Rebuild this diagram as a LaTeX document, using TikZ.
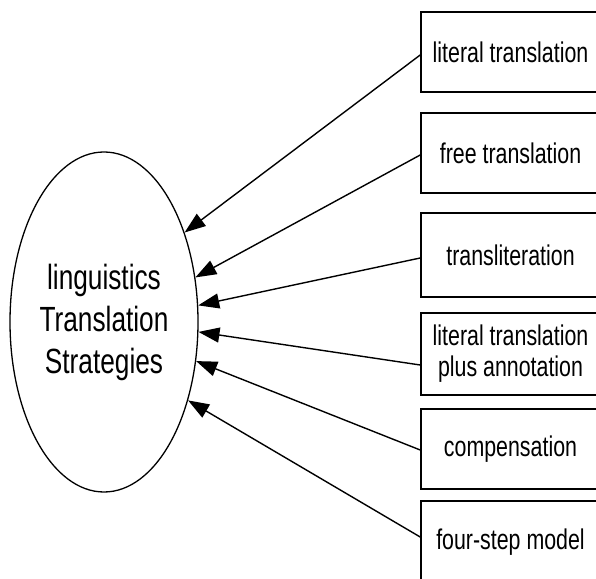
\documentclass[tikz,border=0pt]{standalone}
\usepackage{fontspec}
\setmainfont[FakeStretch=0.75]{Liberation Sans}
\usetikzlibrary{calc}
\usetikzlibrary{shapes.geometric}
\usetikzlibrary{arrows.meta}

\begin{document}
\begin{tikzpicture}[x=1pt, y=1pt]
        % Box sizes
        \pgfmathsetmacro{\boxw}{179}
        \pgfmathsetmacro{\boxh}{80}

        \tikzset{
            strategy/.style={draw, line width=1.6pt, rectangle,
            minimum width=\boxw pt, minimum height=\boxh pt, inner sep=0pt,
            align=center, font=\fontsize{28.5}{31}\selectfont},
            >={Triangle[length=21pt, width=15pt]},
        }

        \path[use as bounding box] (0, 0) rectangle (596, 578);
        \clip (0, 0) rectangle (596, 578);

        % Ellipse on the left
        \node (S) at (104, 256) [draw, ellipse, line width=1.3pt,
        minimum width=188pt, minimum height=340pt, inner sep=0pt,
        align=center, font=\fontsize{35}{42}\selectfont]
        {linguistics\\Translation\\Strategies};

        % Boxes on the right, partly cut off by the border
        \node (B1) at (510.5, 526) [strategy] {literal translation};
        \node (B2) at (510.5, 425) [strategy] {free translation};
        \node (B3) at (510.5, 323) [strategy, minimum height=84pt] {transliteration};
        \node (B4) at (510.5, 224) [strategy, minimum height=82pt] {literal translation\\plus annotation};
        \node (B5) at (510.5, 129) [strategy] {compensation};
        \node (B6) at (510.5, 36) [strategy, minimum height=82pt] {four-step model};

        \coordinate (P1) at ($(B1.west) + (0, -3)$);
        \coordinate (P2) at ($(B2.west) + (0, -2)$);
        \coordinate (P3) at ($(B3.west) + (0, -3)$);
        \coordinate (P4) at ($(B4.west) + (0, -11)$);
        \coordinate (P5) at ($(B5.west) + (0, -1)$);
        \coordinate (P6) at ($(B6.west) + (0, 5)$);

        \begin{scope}[line width=1.4pt]
            \draw[->] (P1) -- (S.48.7);
            \draw[->] (P2) -- (S.26.3);
            \draw[->] (P3) -- (S.10.4);
            \draw[->] (P4) -- (S.-6.7);
            \draw[->] (P5) -- (S.-23.7);
            \draw[->] (P6) -- (S.-43.6);
        \end{scope}

\end{tikzpicture}
\end{document}
